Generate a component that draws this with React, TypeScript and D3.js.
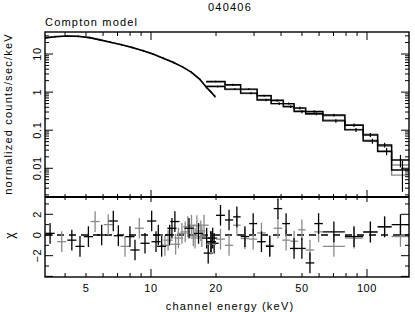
import { useEffect } from "react";
import * as d3 from "d3";

const W = 415;
const H = 312;

const title = "040406";
const modelLabel = "Compton model";
const yLabel = "normalized counts/sec/keV";
const xLabel = "channel energy (keV)";
const resLabel = "χ";

const xTickLabels = [5, 10, 20, 50, 100];
const yTickLabels = [0.01, 0.1, 1, 10];
const resTickLabels = [-2, 0, 2];

// low energy instrument (fine bins)
const loEnergy = [3.25, 3.6, 4.1, 4.6, 5.2, 5.8, 6.5, 7.3, 8.2, 9.2, 10.2, 11.4, 12.7, 14.0, 15.4, 16.8, 18.1, 19.0, 19.8];
const loCounts = [26.5, 28.5, 29.8, 29.2, 27, 23.5, 20.5, 17.5, 14.8, 12.2, 10, 7.8, 6, 4.6, 3.3, 2.2, 1.3, 1.0, 0.76];
const loModel = [26.8, 28.8, 29.6, 29.0, 26.8, 23.8, 20.3, 17.6, 14.6, 12.1, 10.1, 7.7, 6.1, 4.5, 3.35, 2.15, 1.35, 0.98, 0.78];

// high energy instruments (wide bins)
const hiEdges = [18, 22, 26, 31, 36, 41, 46, 52, 62.5, 79, 96, 112, 130, 157];
const hiCountsA = [1.9, 1.56, 1.2, 0.8, 0.6, 0.5, 0.38, 0.31, 0.25, 0.135, 0.075, 0.041, 0.0165];
const hiErrA = [0.1, 0.09, 0.07, 0.05, 0.04, 0.035, 0.03, 0.025, 0.02, 0.014, 0.009, 0.006, 0.006];
const hiModelA = [1.85, 1.5, 1.17, 0.82, 0.62, 0.49, 0.39, 0.3, 0.24, 0.14, 0.078, 0.038, 0.0122];
const hiCountsB = [1.4, 1.2, 0.94, 0.62, 0.5, 0.42, 0.31, 0.27, 0.176, 0.102, 0.052, 0.028, 0.009];
const hiErrB = [0.08, 0.07, 0.06, 0.045, 0.04, 0.035, 0.03, 0.025, 0.018, 0.012, 0.008, 0.006, 0.0066];
const hiModelB = [1.42, 1.17, 0.92, 0.64, 0.5, 0.41, 0.32, 0.26, 0.185, 0.105, 0.055, 0.027, 0.0066];

// residuals, low energy (black and grey)
const resLoEnergyK = [3.41, 4.3, 4.69, 5.13, 5.91, 6.69, 7.06, 7.99, 8.43, 9.38, 10.07, 10.55, 10.81, 11.2, 12.2, 12.5, 12.9, 15.0, 16.6, 18.1, 18.4, 18.9, 19.3, 19.6];
const resLoChiK = [0.16, -0.5, -1.1, -0.16, 0, 1.35, -0.07, -0.16, -1.45, -0.8, 1.35, -0.65, 0, -1.1, 0, 0.65, 1.3, 0.65, 0.15, -0.3, -1.75, -0.65, -0.3, -0.8];
const resLoEnergyG = [3.86, 5.51, 6.34, 7.58, 8.83, 11.6, 12.0, 13.0, 13.4, 13.9, 14.4, 14.8, 15.4, 15.7, 16.0, 16.3, 17.0, 17.2, 17.6];
const resLoChiG = [-0.65, 1.3, 1.0, -1.1, 0.65, -1.0, -0.5, -0.9, -0.3, 0.15, 0.3, 0.8, 0.95, -0.1, -0.3, 0.9, 0.4, -0.15, 0.95];

// residuals, high energy
const resHiEdges = [18, 20, 22, 24, 26, 28.5, 31, 34, 37, 40.5, 44, 48, 52, 57, 62.5, 79, 96, 112, 130, 157];
const resHiChiA = [-0.65, 1.9, 1.45, 1.75, -0.15, 1.1, -0.65, -1.1, 2.55, 1.1, -1.3, -1.3, -2.7, 1.1, 0.3, -0.15, 0.3, 0.8, 1.0];
const resHiChiB = [-0.9, -0.4, -1.0, 0.95, -0.35, -0.4, 0.2, -1.0, 0.65, -0.5, -0.6, 0.5, -1.45, 0.3, -1.1, -0.3, 0.25, 0.75, -0.15];

const L = 45, R = 409, T = 32, MID = 197, B = 277;
const GREY = "#8a8a8a";
const FONT = "'Liberation Sans', Arial, sans-serif";

const x = d3.scaleLog().domain([3.23, 156.5]).range([L, R]);
const y = d3.scaleLog().domain([0.00176, 37.9]).range([MID, T]);
const r = d3.scaleLinear().domain([-4.06, 3.67]).range([B, MID]);

const logTicks = (lo: number, hi: number) => {
  const out: { v: number; major: boolean }[] = [];
  for (let p = -3; p <= 3; p++)
    for (let m = 1; m < 10; m++) {
      const v = m * Math.pow(10, p);
      if (v >= lo && v <= hi) out.push({ v, major: m === 1 });
    }
  return out;
};

const stepLine = (edges: number[], vals: number[]) =>
  d3
    .line<[number, number]>()
    .x((d) => x(d[0]))
    .y((d) => y(d[1]))
    .curve(d3.curveStepAfter)(
    edges.map((e, i) => [e, vals[Math.min(i, vals.length - 1)]] as [number, number])
  );

const fmt = (v: number) => (v < 0 ? "\u2212" + Math.abs(v) : String(v));

export default function App() {
  useEffect(() => {
    document.body.style.margin = "0";
  }, []);

  const xt = logTicks(3.23, 156.5);
  const yt = logTicks(0.00176, 37.9);
  const rt = d3.range(-4, 4);
  const loLine = d3
    .line<number>()
    .x((d, i) => x(loEnergy[i]))
    .y((d) => y(d));

  const cross = (lo: number, hi: number, chi: number, color: string, key: string) => {
    const xc = x(Math.sqrt(lo * hi));
    return (
      <g key={key} stroke={color} strokeWidth={1.3}>
        <line x1={x(lo)} x2={x(hi)} y1={r(chi)} y2={r(chi)} />
        <line x1={xc} x2={xc} y1={r(chi - 1)} y2={r(chi + 1)} />
      </g>
    );
  };

  return (
    <svg width={W} height={H} style={{ position: "absolute", left: 0, top: 0, background: "#fff" }}>
      <defs>
        <clipPath id="top">
          <rect x={L} y={T} width={R - L} height={MID - T} />
        </clipPath>
        <clipPath id="bot">
          <rect x={L} y={MID} width={R - L} height={B - MID} />
        </clipPath>
      </defs>
      <rect width={W} height={H} fill="#fff" />

      {/* top panel data */}
      <g clipPath="url(#top)" fill="none" strokeWidth={1.4}>
        <path d={loLine(loModel) || ""} stroke={GREY} />
        <path d={loLine(loCounts) || ""} stroke="#000" strokeWidth={1.6} />
        {loEnergy.map((e, i) => (
          <line key={"le" + i} x1={x(e)} x2={x(e)} y1={y(loCounts[i] * 1.06)} y2={y(loCounts[i] / 1.06)} stroke="#000" strokeWidth={1} />
        ))}
        <path d={stepLine(hiEdges, hiModelA) || ""} stroke={GREY} />
        <path d={stepLine(hiEdges, hiModelB) || ""} stroke={GREY} />
        <path d={stepLine(hiEdges, hiCountsA) || ""} stroke="#000" />
        <path d={stepLine(hiEdges, hiCountsB) || ""} stroke="#000" />
        {hiCountsA.map((v, i) => {
          const xc = x(Math.sqrt(hiEdges[i] * hiEdges[i + 1]));
          return <line key={"ea" + i} x1={xc} x2={xc} y1={y(v + hiErrA[i])} y2={y(Math.max(v - hiErrA[i], 0.0005))} stroke="#000" strokeWidth={1.2} />;
        })}
        {hiCountsB.map((v, i) => {
          const xc = x(Math.sqrt(hiEdges[i] * hiEdges[i + 1])) + 2;
          return <line key={"eb" + i} x1={xc} x2={xc} y1={y(v + hiErrB[i])} y2={y(Math.max(v - hiErrB[i], 0.0024))} stroke="#000" strokeWidth={1.2} />;
        })}
      </g>

      {/* residuals */}
      <g clipPath="url(#bot)">
        <line x1={L} x2={R} y1={r(0)} y2={r(0)} stroke="#000" strokeWidth={1.3} strokeDasharray="7,5" />
        {resLoEnergyG.map((e, i) => cross(e / 1.05, e * 1.05, resLoChiG[i], GREY, "rg" + i))}
        {resLoEnergyK.map((e, i) => cross(e / 1.05, e * 1.05, resLoChiK[i], "#000", "rk" + i))}
        {resHiChiB.map((c, i) => cross(resHiEdges[i], resHiEdges[i + 1], c, GREY, "hb" + i))}
        {resHiChiA.map((c, i) => cross(resHiEdges[i], resHiEdges[i + 1], c, "#000", "ha" + i))}
      </g>

      {/* frame */}
      <g stroke="#000" strokeWidth={1.4} fill="none">
        <rect x={L} y={T} width={R - L} height={B - T} />
        <line x1={L} x2={R} y1={MID} y2={MID} strokeWidth={1.8} />
        {xt.map((t, i) => {
          const xx = x(t.v);
          const len = t.major ? 8 : 4;
          return (
            <g key={"xt" + i} strokeWidth={1}>
              <line x1={xx} x2={xx} y1={T} y2={T + len} />
              <line x1={xx} x2={xx} y1={MID - len + 1} y2={MID + (t.major ? 5 : 3)} />
              <line x1={xx} x2={xx} y1={B} y2={B - len} />
            </g>
          );
        })}
        {yt.map((t, i) => {
          const yy = y(t.v);
          const len = t.major ? 8 : 4;
          return (
            <g key={"yt" + i} strokeWidth={1}>
              <line x1={L} x2={L + len} y1={yy} y2={yy} />
              <line x1={R} x2={R - len} y1={yy} y2={yy} />
            </g>
          );
        })}
        {rt.map((v, i) => {
          const yy = r(v);
          const len = v % 2 === 0 ? 8 : 4;
          return (
            <g key={"rt" + i} strokeWidth={1}>
              <line x1={L} x2={L + len} y1={yy} y2={yy} />
              <line x1={R} x2={R - len} y1={yy} y2={yy} />
            </g>
          );
        })}
      </g>

      {/* text */}
      <g fontFamily={FONT} fontSize={11} fill="#000" letterSpacing={1.2}>
        <text x={230} y={11} textAnchor="middle">{title}</text>
        <text x={L} y={26}>{modelLabel}</text>
        {xTickLabels.map((v) => (
          <text key={"xl" + v} x={x(v)} y={292} textAnchor="middle" letterSpacing={0.6}>{v}</text>
        ))}
        <text x={230} y={310} textAnchor="middle">{xLabel}</text>
        {yTickLabels.map((v) => (
          <text key={"yl" + v} transform={`translate(41,${y(v)}) rotate(-90)`} textAnchor="middle" letterSpacing={0.6}>{v}</text>
        ))}
        {resTickLabels.map((v) => (
          <text key={"rl" + v} transform={`translate(41,${r(v)}) rotate(-90)`} textAnchor="middle" letterSpacing={0.6}>{fmt(v)}</text>
        ))}
        <text transform={`translate(11.5,114) rotate(-90)`} textAnchor="middle">{yLabel}</text>
        <text transform={`translate(14,235) rotate(-90)`} textAnchor="middle" fontSize={12}>{resLabel}</text>
      </g>
    </svg>
  );
}
